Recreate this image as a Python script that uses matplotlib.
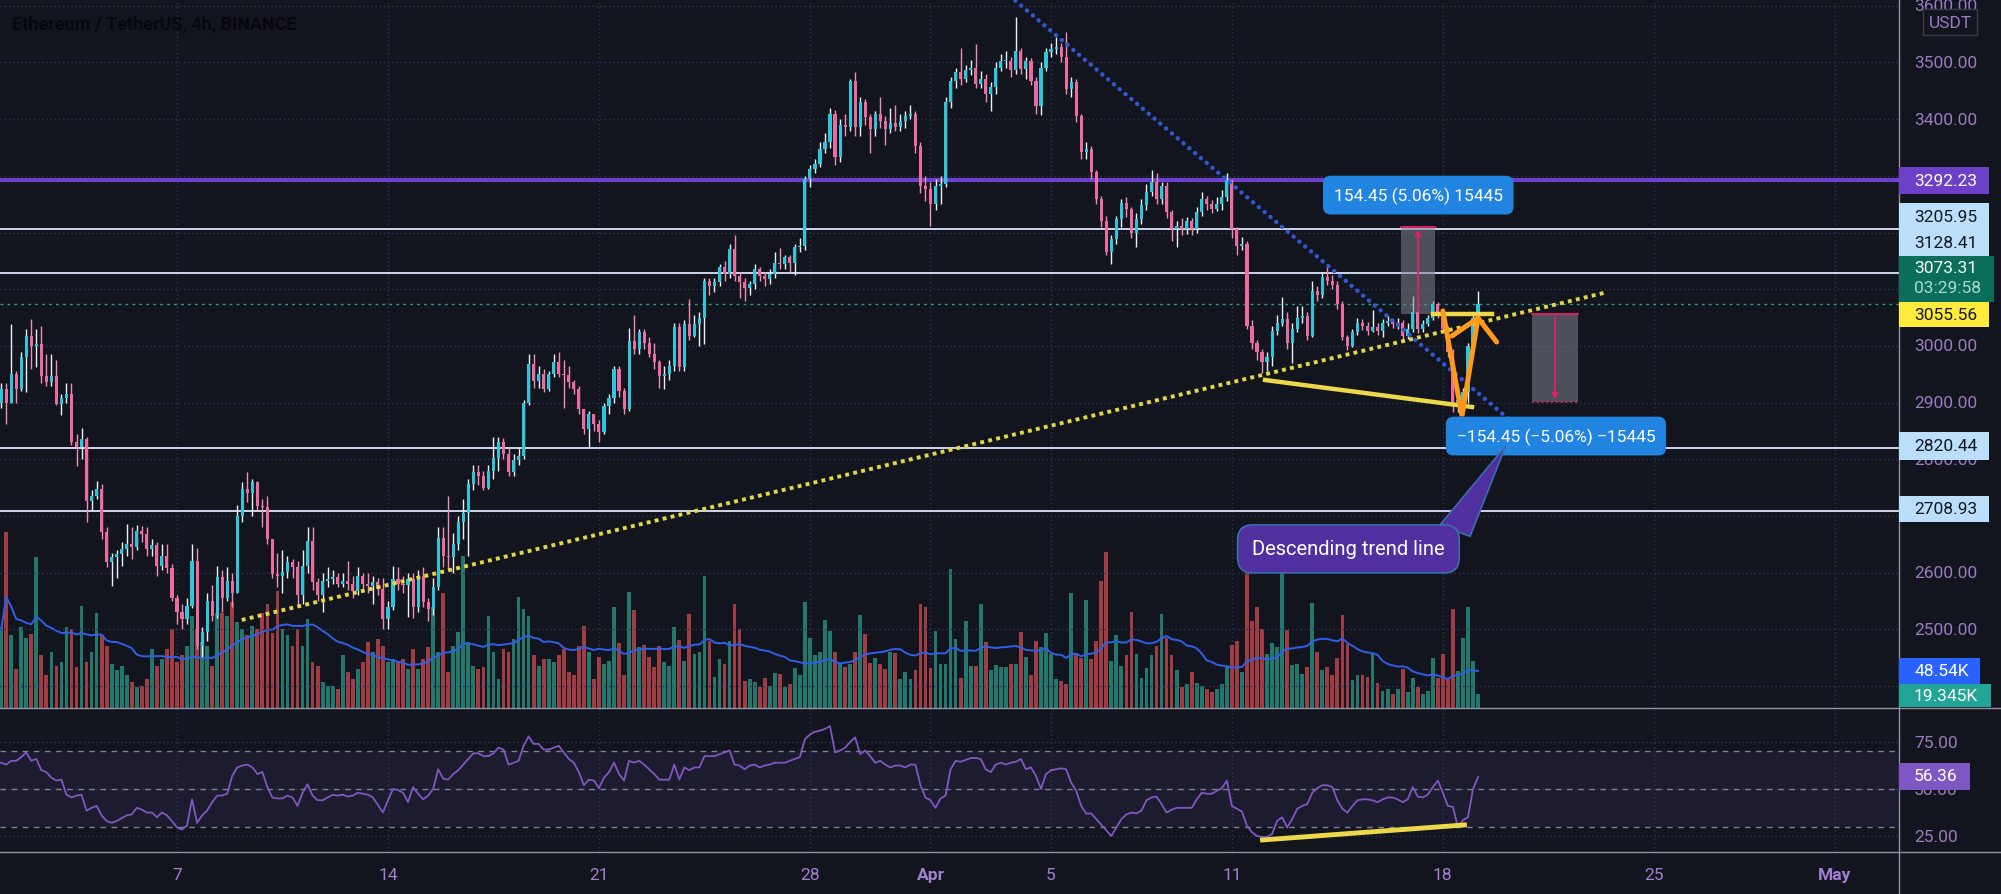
import matplotlib.pyplot as plt
from matplotlib.patches import Rectangle, Polygon
from matplotlib.lines import Line2D
import pandas as pd

plt.rcParams['font.family'] = ['Roboto', 'DejaVu Sans']

W, H = 2001, 895
BG = '#13151e'
TICK = '#9b7bbf'

# ETH/USDT 4h candles, index 0 = Mar 1 00:00 (6 candles per day)
closes = [2900, 2924, 2900, 2950, 2924, 2980, 3018, 3000, 3003, 2947,
          2936, 2947, 2898, 2909, 2915, 2830, 2821, 2836, 2727, 2736,
          2748, 2671, 2618, 2627, 2633, 2642, 2650, 2645, 2674, 2668,
          2642, 2648, 2612, 2630, 2609, 2556, 2530, 2518, 2542, 2621,
          2470, 2495, 2550, 2524, 2592, 2556, 2586, 2565, 2700, 2747,
          2741, 2760, 2718, 2716, 2660, 2598, 2595, 2602, 2618, 2610,
          2560, 2612, 2656, 2583, 2560, 2586, 2589, 2592, 2580, 2586,
          2580, 2568, 2595, 2580, 2577, 2583, 2571, 2518, 2540, 2589,
          2580, 2578, 2589, 2539, 2594, 2548, 2536, 2574, 2662, 2630,
          2628, 2650, 2689, 2706, 2756, 2777, 2770, 2750, 2780, 2803,
          2830, 2810, 2777, 2798, 2805, 2900, 2968, 2939, 2950, 2924,
          2950, 2971, 2950, 2948, 2936, 2924, 2889, 2853, 2880, 2862,
          2848, 2894, 2909, 2959, 2921, 2889, 3009, 2995, 3024, 3006,
          2986, 2971, 2947, 2950, 2965, 3033, 2962, 3039, 3018, 3039,
          3050, 3115, 3106, 3112, 3139, 3127, 3171, 3124, 3112, 3103,
          3109, 3136, 3124, 3118, 3127, 3147, 3145, 3156, 3147, 3174,
          3177, 3294, 3312, 3321, 3347, 3359, 3409, 3333, 3389, 3386,
          3468, 3386, 3430, 3403, 3383, 3409, 3397, 3383, 3394, 3386,
          3397, 3406, 3409, 3353, 3283, 3277, 3250, 3283, 3286, 3430,
          3468, 3483, 3471, 3486, 3491, 3462, 3471, 3445, 3456, 3491,
          3503, 3503, 3486, 3521, 3489, 3503, 3468, 3424, 3491, 3518,
          3524, 3527, 3509, 3453, 3465, 3406, 3342, 3347, 3306, 3259,
          3221, 3165, 3189, 3224, 3253, 3242, 3200, 3224, 3248, 3271,
          3289, 3259, 3283, 3236, 3206, 3212, 3206, 3220, 3206, 3236,
          3259, 3250, 3242, 3250, 3262, 3292, 3206, 3177, 3180, 3036,
          3006, 2989, 2971, 2980, 3027, 3041, 3047, 3006, 3030, 3050,
          3053, 3018, 3097, 3089, 3121, 3115, 3107, 3074, 3015, 3000,
          3024, 3041, 3036, 3027, 3033, 3027, 3041, 3044, 3038, 3041,
          3018, 3030, 3059, 3030, 3039, 3050, 3074, 3059, 3030, 2989,
          2900, 2905, 2918, 3000, 3050, 3073.31]

highs = [2915, 2935, 2935, 3039, 2955, 2990, 3030, 3047, 3030, 3035,
         2985, 2985, 2975, 2915, 2935, 2935, 2845, 2855, 2840, 2745,
         2762, 2757, 2680, 2635, 2640, 2655, 2686, 2680, 2685, 2683,
         2680, 2660, 2655, 2650, 2650, 2615, 2560, 2545, 2555, 2650,
         2643, 2505, 2565, 2578, 2612, 2605, 2610, 2600, 2720, 2760,
         2777, 2765, 2762, 2730, 2735, 2660, 2635, 2640, 2630, 2625,
         2620, 2640, 2680, 2680, 2590, 2600, 2610, 2605, 2600, 2600,
         2620, 2595, 2610, 2600, 2600, 2595, 2590, 2590, 2550, 2612,
         2610, 2595, 2600, 2600, 2605, 2610, 2555, 2590, 2680, 2680,
         2736, 2670, 2700, 2730, 2765, 2790, 2790, 2780, 2790, 2839,
         2840, 2838, 2820, 2810, 2820, 2905, 2985, 2985, 2965, 2960,
         2955, 2985, 2990, 2975, 2965, 2940, 2930, 2885, 2885, 2880,
         2870, 2900, 2915, 2965, 2965, 2925, 3031, 3055, 3030, 3030,
         3015, 3005, 2975, 2965, 2975, 3040, 3040, 3045, 3083, 3055,
         3060, 3120, 3120, 3120, 3145, 3150, 3180, 3195, 3130, 3120,
         3115, 3145, 3140, 3130, 3135, 3165, 3172, 3160, 3160, 3180,
         3190, 3300, 3320, 3330, 3360, 3375, 3420, 3416, 3400, 3410,
         3471, 3483, 3440, 3435, 3410, 3415, 3440, 3405, 3420, 3425,
         3410, 3415, 3425, 3415, 3360, 3300, 3290, 3295, 3300, 3440,
         3475, 3490, 3525, 3495, 3505, 3533, 3485, 3480, 3465, 3500,
         3515, 3520, 3510, 3580, 3525, 3510, 3508, 3475, 3500, 3525,
         3535, 3545, 3535, 3553, 3475, 3470, 3410, 3360, 3352, 3310,
         3265, 3230, 3195, 3230, 3260, 3262, 3245, 3235, 3260, 3285,
         3310, 3305, 3290, 3290, 3240, 3220, 3225, 3228, 3225, 3245,
         3272, 3265, 3258, 3262, 3275, 3305, 3295, 3210, 3192, 3185,
         3045, 3010, 2995, 2990, 3035, 3055, 3086, 3060, 3040, 3070,
         3070, 3060, 3115, 3105, 3130, 3145, 3125, 3115, 3080, 3020,
         3030, 3050, 3048, 3042, 3063, 3040, 3048, 3052, 3048, 3050,
         3045, 3040, 3088, 3062, 3045, 3055, 3080, 3078, 3065, 3035,
         2995, 2920, 2925, 3005, 3058, 3097]

lows = [2880, 2890, 2862, 2918, 2900, 2920, 2918, 2960, 2962, 2935,
        2930, 2930, 2895, 2878, 2900, 2825, 2789, 2800, 2689, 2710,
        2730, 2660, 2610, 2577, 2590, 2612, 2630, 2625, 2640, 2655,
        2630, 2630, 2595, 2605, 2600, 2550, 2510, 2500, 2510, 2538,
        2465, 2452, 2480, 2515, 2520, 2530, 2550, 2540, 2575, 2690,
        2725, 2700, 2710, 2680, 2650, 2590, 2575, 2565, 2590, 2590,
        2540, 2545, 2600, 2570, 2550, 2530, 2575, 2580, 2575, 2575,
        2570, 2555, 2560, 2570, 2565, 2545, 2560, 2500, 2500, 2535,
        2570, 2565, 2521, 2520, 2530, 2540, 2515, 2525, 2570, 2610,
        2605, 2600, 2640, 2660, 2630, 2745, 2755, 2745, 2748, 2765,
        2780, 2800, 2770, 2770, 2790, 2800, 2895, 2925, 2925, 2918,
        2920, 2945, 2945, 2890, 2925, 2915, 2880, 2845, 2821, 2850,
        2830, 2845, 2880, 2900, 2910, 2880, 2885, 2985, 2985, 2995,
        2980, 2960, 2925, 2924, 2940, 2955, 2955, 2955, 3010, 3015,
        3000, 3003, 3090, 3095, 3105, 3115, 3120, 3115, 3085, 3080,
        3090, 3100, 3115, 3105, 3110, 3120, 3135, 3135, 3130, 3125,
        3165, 3170, 3280, 3305, 3315, 3340, 3350, 3320, 3325, 3370,
        3380, 3370, 3370, 3390, 3340, 3370, 3385, 3355, 3375, 3380,
        3380, 3385, 3400, 3340, 3270, 3255, 3212, 3240, 3250, 3280,
        3420, 3455, 3460, 3465, 3478, 3455, 3455, 3430, 3415, 3445,
        3485, 3490, 3475, 3480, 3480, 3470, 3460, 3410, 3407, 3485,
        3510, 3515, 3500, 3445, 3440, 3395, 3330, 3330, 3295, 3250,
        3210, 3160, 3145, 3180, 3210, 3228, 3190, 3175, 3215, 3240,
        3265, 3250, 3250, 3225, 3185, 3175, 3195, 3198, 3195, 3200,
        3230, 3240, 3235, 3238, 3240, 3255, 3190, 3160, 3170, 3030,
        2995, 2975, 2953, 2955, 2965, 3020, 3035, 2995, 2970, 3025,
        3040, 3010, 3015, 3080, 3085, 3108, 3100, 3065, 3010, 2993,
        2998, 3020, 3028, 3020, 3025, 3020, 3015, 3035, 3032, 3030,
        3010, 3012, 3025, 3022, 3025, 3035, 3045, 3050, 3025, 2980,
        2883, 2883, 2880, 2900, 2990, 3040]

# volume in thousands
volumes = [103, 109, 238, 98, 53, 109, 95, 100, 204, 71,
           44, 75, 57, 62, 109, 107, 55, 138, 62, 75,
           129, 98, 84, 60, 51, 57, 44, 35, 28, 30,
           39, 80, 57, 66, 80, 107, 62, 71, 84, 124,
           107, 89, 84, 57, 129, 129, 124, 143, 116, 107,
           98, 111, 107, 129, 140, 102, 158, 107, 98, 84,
           107, 84, 120, 62, 57, 35, 30, 30, 26, 71,
           48, 39, 53, 62, 89, 75, 93, 84, 62, 66,
           62, 66, 53, 80, 53, 66, 82, 136, 75, 156,
           48, 84, 103, 206, 89, 57, 53, 55, 124, 75,
           39, 80, 75, 93, 150, 134, 124, 71, 57, 66,
           66, 62, 71, 80, 48, 44, 84, 111, 75, 39,
           69, 59, 64, 137, 88, 44, 157, 132, 82, 85,
           69, 56, 84, 62, 57, 109, 92, 64, 127, 73,
           76, 179, 91, 42, 66, 59, 90, 141, 107, 37,
           39, 35, 28, 40, 30, 47, 46, 29, 32, 54,
           45, 143, 95, 72, 75, 119, 104, 75, 61, 56,
           59, 76, 125, 100, 61, 67, 59, 53, 75, 74,
           39, 49, 39, 51, 141, 136, 54, 104, 59, 59,
           188, 93, 40, 117, 57, 57, 141, 89, 51, 58,
           56, 56, 59, 59, 103, 69, 44, 91, 82, 101,
           73, 39, 37, 32, 156, 73, 67, 146, 66, 91,
           172, 211, 63, 98, 57, 72, 130, 73, 40, 54,
           71, 84, 127, 95, 71, 51, 28, 32, 49, 34,
           30, 26, 21, 26, 32, 56, 85, 90, 49, 204,
           118, 136, 107, 73, 88, 82, 188, 106, 58, 59,
           46, 56, 142, 75, 51, 55, 44, 67, 125, 86,
           38, 45, 45, 42, 73, 34, 23, 26, 19, 26,
           53, 22, 41, 29, 19, 23, 68, 41, 73, 41,
           134, 50, 95, 136, 64, 19.345]

rsi = [64, 64, 63, 65, 65, 67, 69.5, 65, 66, 60,
       59, 56, 54.5, 55, 47, 45.5, 46.5, 47, 38.5, 40,
       41, 36, 33, 32, 33, 34.5, 36, 36.5, 40, 39,
       37.5, 37.5, 35, 37.5, 36, 33, 29.5, 28.5, 30.5, 44.5,
       32, 36, 38.5, 43, 46.5, 46.5, 47.5, 57, 61.5, 62.5,
       63, 61.5, 58, 59, 51, 45.5, 45, 45, 46.5, 45.5,
       41, 48, 52.5, 46.5, 44, 44, 45.5, 47, 46.5, 47,
       46, 46.5, 48, 47.5, 47, 45.5, 41.5, 37.5, 44, 50,
       49.5, 48, 43, 51, 47.5, 44.5, 46.5, 50, 60.5, 55.5,
       55, 58, 60, 63, 66, 69, 69, 67.5, 67.5, 69,
       72, 71, 63, 64, 65, 73, 78, 74, 74, 71,
       71, 72, 73, 69.5, 66, 64, 59, 52, 55, 54.5,
       50.5, 56, 59, 64, 58, 54.5, 65, 64, 65, 63,
       60.5, 58, 55, 55, 55, 63, 55, 61.5, 60, 61.5,
       61.5, 67.5, 67.5, 67.5, 68.5, 69.5, 70.5, 63, 62.5, 60.5,
       62.5, 63, 61.5, 62.5, 63, 64, 64, 64, 65, 66,
       67, 76.5, 79, 80.5, 81, 82, 83.5, 69.5, 70.5, 72,
       75, 77.5, 68.5, 70.5, 67.5, 64, 65, 63, 61.5, 62.5,
       62.5, 61.5, 63, 63, 52, 45.5, 44, 40, 45, 46.5,
       60.5, 65, 64.5, 65.5, 66.5, 66.5, 66, 60.5, 59, 63,
       64, 63, 64, 64.5, 66, 60.5, 61.5, 57, 50, 58,
       60, 60.5, 61, 60.5, 53.5, 49, 41, 37, 37, 34,
       31, 28, 25, 29.5, 34, 36.5, 37.5, 37, 38.5, 44,
       45.5, 46, 42, 37.5, 39, 40, 40, 40, 40, 44.5,
       48, 47.5, 47.5, 49, 50.5, 54.5, 41, 39.5, 38, 30.5,
       27, 25, 24.5, 24.5, 26, 33, 35, 29.5, 34, 39.5,
       41, 42, 48, 50.5, 52, 52, 51, 44, 39.5, 37.5,
       41, 44, 44.5, 44.5, 44, 43, 44.5, 45.5, 45.5, 44.5,
       43, 44.5, 51, 46, 45.5, 47, 51, 54.5, 48, 41,
       40.5, 29.5, 33.5, 35, 50, 56.36]

date_ticks = [36, 78, 120, 162, 186, 210, 246, 288, 330, 366]
date_labels = ['7', '14', '21', '28', 'Apr', '5', '11', '18', '25', 'May']
price_ticks = [2500, 2600, 2800, 2900, 3000, 3400, 3500, 3600]
grid_prices = [2400, 2500, 2600, 2700, 2800, 2900, 3000, 3100, 3200, 3300, 3400, 3500, 3600]
rsi_ticks = [25, 50, 75]
levels_white = [3205.95, 3128.41, 2820.44, 2708.93]
level_purple = 3292.23
last_price = 3073.31


def fx(x):
    return x / W


def fy(y):
    return 1 - y / H


fig = plt.figure(figsize=(W / 100, H / 100), dpi=100, facecolor=BG)
axv = fig.add_axes([0, fy(709), fx(1899), 709 / H])
ax = fig.add_axes([0, fy(709), fx(1899), 709 / H], sharex=axv)
axr = fig.add_axes([0, fy(853), fx(1899), 144 / H], sharex=axv)
for a in (axv, ax, axr):
    a.set_axis_off()
ax.set_xlim(0.77, 378.8)
ax.set_ylim(2361.3, 3612)
axv.set_ylim(0, 958)
axr.set_ylim(16.5, 93.1)

grid_kw = dict(color='#2e3256', lw=1, ls=(0, (1, 2)), zorder=0)
for t in date_ticks:
    axv.axvline(t, **grid_kw)
    axr.axvline(t, **grid_kw)
for p in grid_prices:
    ax.axhline(p, **grid_kw)
for r in rsi_ticks:
    axr.axhline(r, **grid_kw)

# volume + MA
n = min(len(closes), len(highs), len(lows), len(volumes), len(rsi))
xs = list(range(n))
opens = [2880] + closes[:n - 1]
up = [closes[i] >= opens[i] for i in xs]
vol_colors = ['#23786e' if u else '#a03c44' for u in up]
axv.bar(xs, volumes[:n], width=0.75, color=vol_colors, zorder=1)
vol_ma = pd.Series(volumes[:n]).rolling(20, min_periods=1).mean()
axv.plot(xs, vol_ma, color='#2f5fe8', lw=1.4, zorder=2)

# candles
wick_colors = ['#e6f3f6' if u else '#f28db3' for u in up]
body_colors = ['#2cc7dc' if u else '#f06b9d' for u in up]
body_low = [min(opens[i], closes[i]) for i in xs]
body_h = [max(abs(closes[i] - opens[i]), 1.8) for i in xs]
hi = [max(highs[i], opens[i], closes[i]) for i in xs]
lo = [min(lows[i], opens[i], closes[i]) for i in xs]
ax.vlines(xs, lo, hi, colors=wick_colors, lw=1, zorder=3)
ax.bar(xs, body_h, bottom=body_low, width=0.62, color=body_colors, zorder=4)

# horizontal levels
for lv in levels_white:
    ax.axhline(lv, color='#dfe5ff', lw=1.3, zorder=2)
ax.axhline(level_purple, color='#6d40cc', lw=3, zorder=2)
ax.axhline(last_price, color='#2a9d8f', lw=1, ls=(0, (2, 3)), zorder=2)

# trend lines
ax.plot([202.9, 309.3], [3609, 2809.4], color='#3157d6', lw=3.2,
        ls=(0, (0.01, 1.7)), dash_capstyle='round', zorder=5)
ax.plot([48.9, 320.8], [2516.6, 3095.1], color='#e3d649', lw=2.8,
        ls=(0, (1, 1.1)), zorder=5)
ax.plot([252.6, 293.8], [2939.9, 2892.3], color='#ecd84a', lw=3.2, zorder=6)
ax.plot([286.0, 297.7], [3055.56, 3055.56], color='#ecd84a', lw=3.2, zorder=6)
ax.plot([288.0, 291.8, 295.0], [3061.6, 2876.4, 3049.3], color='#ff9a1c',
        lw=3.6, solid_capstyle='round', solid_joinstyle='miter', zorder=7)
ax.plot([289.8, 295.0, 298.7], [3017.5, 3049.3, 3007.0], color='#ff9a1c',
        lw=3.6, solid_capstyle='round', zorder=7)

# measurement boxes
ax.add_patch(Rectangle((279.6, 3055.56), 6.9, 154.45, facecolor='#7d808c',
                       alpha=0.55, lw=0, zorder=3.5))
ax.plot([279.6, 286.5], [3210.01, 3210.01], color='#e91e63', lw=1.3, zorder=5)
ax.annotate('', xy=(283.05, 3210.01), xytext=(283.05, 3055.56),
            arrowprops=dict(arrowstyle='->', color='#e91e63', lw=1.3, mutation_scale=9),
            zorder=5)
ax.add_patch(Rectangle((305.8, 2901.11), 9.0, 154.45, facecolor='#7d808c',
                       alpha=0.55, lw=0, zorder=3.5))
ax.plot([305.8, 314.8], [3055.56, 3055.56], color='#e91e63', lw=1.3, zorder=5)
ax.plot([305.8, 314.8], [2901.11, 2901.11], color='#e91e63', lw=1.3, ls=':', zorder=5)
ax.annotate('', xy=(310.3, 2901.11), xytext=(310.3, 3055.56),
            arrowprops=dict(arrowstyle='->', color='#e91e63', lw=1.3, mutation_scale=9),
            zorder=5)

lab_box = dict(boxstyle='round,pad=0.62,rounding_size=0.45', fc='#2184e0', ec='none')
ax.text(283.1, 3266, '154.45 (5.06%) 15445', color='white', fontsize=12.5,
        ha='center', va='center', bbox=lab_box, zorder=8)
ax.text(310.5, 2841, '\u2212154.45 (\u22125.06%) \u221215445', color='white', fontsize=12.5,
        ha='center', va='center', bbox=lab_box, zorder=8)

# callout
ax.add_patch(Polygon([(287.4, 2684), (300.5, 2823.5), (293.4, 2664)], closed=True,
                     fc='#50309f', ec='#3a6cae', lw=1.2, zorder=8))
ax.text(269.2, 2642, 'Descending trend line', color='white', fontsize=14.5,
        ha='center', va='center', zorder=9,
        bbox=dict(boxstyle='round,pad=0.72,rounding_size=0.75', fc='#50309f', ec='#3a6cae', lw=1.2))

# RSI pane
axr.axhspan(30, 70, color='#7e57c2', alpha=0.1, lw=0)
for r in (30, 50, 70):
    axr.axhline(r, color='#7d8090', lw=1, ls=(0, (4, 4)))
axr.plot(xs, rsi[:n], color='#7e57c2', lw=1.3, zorder=3)
axr.plot([252.1, 292.3], [22.9, 30.9], color='#ecd84a', lw=3.5, zorder=4)

# date labels
for t, lab in zip(date_ticks, date_labels):
    axr.text(t, -0.153, lab, transform=axr.get_xaxis_transform(), ha='center', va='center',
             fontsize=12.5, color='#a47fd2', clip_on=False,
             fontweight='bold' if lab in ('Apr', 'May') else 'normal')

# right scale tick labels
tx = 1914 / 1899
for p in price_ticks:
    ax.text(tx, p, f'{p:.2f}', transform=ax.get_yaxis_transform(), ha='left', va='center',
            fontsize=12.5, color=TICK, clip_on=False)
for r in rsi_ticks:
    axr.text(tx, r, f'{r:.2f}', transform=axr.get_yaxis_transform(), ha='left', va='center',
             fontsize=12.5, color=TICK, clip_on=False)


def tag(x0, y0, x1, y1, fc, lines, tc='white'):
    fig.add_artist(Rectangle((fx(x0), fy(y1)), fx(x1) - fx(x0), (y1 - y0) / H,
                             transform=fig.transFigure, fc=fc, ec='none', zorder=10))
    for y, s, c in lines:
        fig.text(fx(1914), fy(y), s, ha='left', va='center', fontsize=12.5,
                 color=c or tc, zorder=11)


tag(1899, 168, 1989, 195, '#6d40c8', [(181, '3292.23', None)])
tag(1899, 204, 1989, 257, '#bbdefb', [(218, '3205.95', None), (244, '3128.41', None)], '#131722')
tag(1899, 257, 1994, 303, '#0b6e5a', [(269, '3073.31', None), (289, '03:29:58', '#a5dccf')])
tag(1899, 303, 1989, 328, '#ffeb3b', [(315, '3055.56', None)], '#131722')
tag(1899, 433, 1989, 461, '#bbdefb', [(447, '2820.44', None)], '#131722')
tag(1899, 497, 1989, 523, '#bbdefb', [(510, '2708.93', None)], '#131722')
tag(1899, 659, 1980, 685, '#2962ff', [(672, '48.54K', None)])
tag(1899, 685, 1991, 708, '#22a596', [(697, '19.345K', None)])
tag(1899, 764, 1970, 791, '#7e57c2', [(777, '56.36', None)])

# USDT unit box
fig.add_artist(Rectangle((fx(1923), fy(36)), fx(1977) - fx(1923), 26 / H,
                         transform=fig.transFigure, fc=BG, ec='#363a48', lw=1, zorder=10))
fig.text(fx(1950), fy(23), 'USDT', ha='center', va='center', fontsize=12.5, color=TICK, zorder=11)

# pane separators
sep = '#8e92a2'
fig.add_artist(Line2D([0, 1], [fy(709), fy(709)], transform=fig.transFigure, color=sep, lw=1))
fig.add_artist(Line2D([0, 1], [fy(853), fy(853)], transform=fig.transFigure, color=sep, lw=1))
fig.add_artist(Line2D([fx(1899), fx(1899)], [0, 1], transform=fig.transFigure, color=sep, lw=1))

fig.text(fx(12), fy(24), 'Ethereum / TetherUS, 4h, BINANCE', fontsize=13, fontweight='bold',
         color='#07080c', va='center', ha='left')

fig.savefig('out.png', dpi=100, facecolor=BG)
